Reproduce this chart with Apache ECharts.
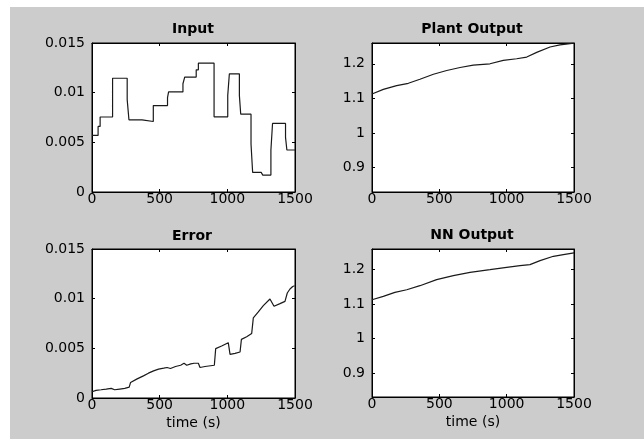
<!DOCTYPE html>
<html>
<head>
<meta charset="utf-8">
<script src="https://cdn.jsdelivr.net/npm/echarts@6/dist/echarts.min.js"></script>
<style>
  html, body { margin: 0; padding: 0; background: #ffffff; width: 644px; height: 439px; overflow: hidden; }
  #chart { position: absolute; left: 10px; top: 7px; width: 634px; height: 432px; }
</style>
</head>
<body>
<div id="chart"></div>
<script>
// ---- data ----
const titles = ['Input', 'Plant Output', 'Error', 'NN Output'];
const xTicks = [0, 500, 1000, 1500];
const smallTicks = [0, 0.005, 0.01, 0.015];
const outputTicks = [0.9, 1, 1.1, 1.2];
const xAxisName = 'time (s)';

// Input (stair signal): segment start time and value
const inputTime = [0, 45, 60, 152, 260, 273, 370, 453, 558, 566, 672, 685, 770, 786, 902, 1003, 1015, 1089, 1099, 1175, 1187, 1250, 1262, 1322, 1334, 1430, 1440, 1500];
const inputValue = [0.0057, 0.0066, 0.00755, 0.01145, 0.0093, 0.00727, 0.0071, 0.0087, 0.0095, 0.01007, 0.0109, 0.01157, 0.0123, 0.01297, 0.00757, 0.00973, 0.0119, 0.00973, 0.00783, 0.00483, 0.00197, 0.00183, 0.0017, 0.00423, 0.0069, 0.0055, 0.00423, 0.00423];

// Plant output
const plantTime = [0, 84, 183, 270, 356, 456, 555, 654, 752, 876, 975, 1074, 1149, 1223, 1322, 1396, 1500];
const plantValue = [1.113, 1.1262, 1.1369, 1.1437, 1.1553, 1.1699, 1.1806, 1.1893, 1.1961, 1.2, 1.2097, 1.2146, 1.2194, 1.233, 1.2485, 1.2544, 1.2595];

// Error
const errorTime = [0, 30, 67, 105, 142, 155, 167, 205, 242, 275, 285, 330, 380, 417, 455, 492, 530, 555, 580, 617, 655, 680, 700, 730, 754, 786, 798, 835, 904, 914, 958, 1007, 1020, 1057, 1094, 1104, 1143, 1180, 1192, 1229, 1266, 1315, 1328, 1345, 1389, 1426, 1443, 1463, 1483, 1497];
const errorValue = [0.00063, 0.00077, 0.00083, 0.0009, 0.00097, 0.00107, 0.00083, 0.0009, 0.00097, 0.0011, 0.00157, 0.0019, 0.00223, 0.0025, 0.00273, 0.0029, 0.003, 0.00307, 0.00297, 0.00317, 0.0033, 0.0035, 0.0033, 0.00343, 0.0035, 0.0035, 0.00307, 0.00317, 0.0033, 0.00497, 0.00523, 0.00557, 0.0044, 0.0045, 0.00463, 0.0059, 0.00617, 0.0065, 0.00807, 0.00867, 0.0093, 0.00997, 0.01007, 0.00923, 0.0095, 0.00973, 0.01057, 0.01097, 0.01123, 0.0113];

// NN output
const nnTime = [0, 84, 170, 258, 356, 480, 604, 728, 876, 1000, 1099, 1173, 1248, 1347, 1421, 1500];
const nnValue = [1.1126, 1.1223, 1.134, 1.1417, 1.1534, 1.1709, 1.1825, 1.1922, 1.2, 1.2068, 1.2117, 1.2146, 1.2262, 1.2388, 1.2437, 1.249];

// ---- chart ----
const zip = (a, b) => a.map((x, i) => [x, b[i]]);
const FONT = 'DejaVu Sans';
const INK = '#000000';

const grids = [
  { left: 82, top: 36, width: 203, height: 149 },
  { left: 362, top: 36, width: 202, height: 149 },
  { left: 82, top: 242, width: 203, height: 149 },
  { left: 362, top: 242, width: 202, height: 148 }
];
const titlePos = [
  { x: 183, y: 22 }, { x: 462, y: 22 },
  { x: 182, y: 229 }, { x: 462, y: 228 }
];
const yRange = [
  { min: 0, max: 0.015, ticks: smallTicks },
  { min: 0.83, max: 1.26, ticks: outputTicks },
  { min: 0, max: 0.015, ticks: smallTicks },
  { min: 0.83, max: 1.26, ticks: outputTicks }
];

const fmt = v => String(parseFloat((+v).toFixed(4)));

const xAxes = [], yAxes = [];
grids.forEach((g, i) => {
  const bottomRow = i >= 2;
  xAxes.push({
    type: 'value', gridIndex: i, position: 'bottom', min: 0, max: 1500,
    axisLine: { show: true, onZero: false, lineStyle: { color: INK, width: 1 } },
    axisTick: { show: true, inside: true, length: 3, lineStyle: { color: INK }, customValues: xTicks },
    axisLabel: { show: true, customValues: xTicks, color: INK, fontFamily: FONT, fontSize: 14, margin: 0, formatter: fmt },
    splitLine: { show: false },
    name: bottomRow ? xAxisName : '', nameLocation: 'middle', nameGap: 18,
    nameTextStyle: { color: INK, fontFamily: FONT, fontSize: 14 }
  });
  xAxes.push({
    type: 'value', gridIndex: i, position: 'top', min: 0, max: 1500,
    axisLine: { show: true, onZero: false, lineStyle: { color: INK, width: 1 } },
    axisTick: { show: true, inside: true, length: 3, lineStyle: { color: INK }, customValues: xTicks },
    axisLabel: { show: false },
    splitLine: { show: false }
  });
  const yr = yRange[i];
  yAxes.push({
    type: 'value', gridIndex: i, position: 'left', min: yr.min, max: yr.max,
    axisLine: { show: true, onZero: false, lineStyle: { color: INK, width: 1 } },
    axisTick: { show: true, inside: true, length: 3, lineStyle: { color: INK }, customValues: yr.ticks },
    axisLabel: { show: true, customValues: yr.ticks, color: INK, fontFamily: FONT, fontSize: 14, margin: 7, formatter: fmt },
    splitLine: { show: false }
  });
  yAxes.push({
    type: 'value', gridIndex: i, position: 'right', min: yr.min, max: yr.max,
    axisLine: { show: true, onZero: false, lineStyle: { color: INK, width: 1 } },
    axisTick: { show: true, inside: true, length: 3, lineStyle: { color: INK }, customValues: yr.ticks },
    axisLabel: { show: false },
    splitLine: { show: false }
  });
});

const seriesData = [
  { data: zip(inputTime, inputValue), step: 'end' },
  { data: zip(plantTime, plantValue), step: false },
  { data: zip(errorTime, errorValue), step: false },
  { data: zip(nnTime, nnValue), step: false }
];

const option = {
  backgroundColor: '#cccccc',
  animation: false,
  title: titles.map((t, i) => ({
    text: t, left: titlePos[i].x, top: titlePos[i].y - 7, textAlign: 'center', padding: 0,
    textStyle: { fontFamily: FONT, fontSize: 14, fontWeight: 'bold', color: INK }
  })),
  grid: grids.map(g => Object.assign({ show: true, backgroundColor: '#ffffff', borderColor: INK, borderWidth: 1, containLabel: false }, g)),
  xAxis: xAxes,
  yAxis: yAxes,
  series: seriesData.map((s, i) => ({
    type: 'line', xAxisIndex: 2 * i, yAxisIndex: 2 * i,
    data: s.data, step: s.step, showSymbol: false, symbol: 'none',
    lineStyle: { color: '#1a1a1a', width: 1.2 }
  }))
};

const chart = echarts.init(document.getElementById('chart'), null, { renderer: 'canvas' });
chart.setOption(option);
</script>
</body>
</html>
